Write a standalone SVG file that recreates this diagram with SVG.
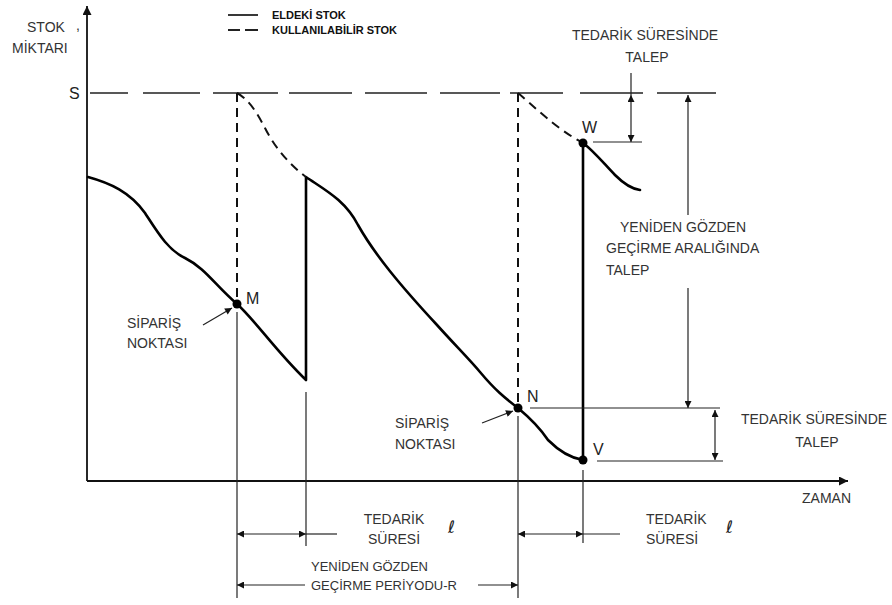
<svg xmlns="http://www.w3.org/2000/svg" width="892" height="605" viewBox="0 0 892 605">
<style>
.lbl{font-family:"Liberation Sans",Arial,sans-serif;font-size:14px;fill:#333;}
.lg{font-family:"Liberation Sans",Arial,sans-serif;font-size:11px;font-weight:bold;fill:#111;}
.ar{font-family:"Liberation Sans",Arial,sans-serif;font-size:13px;fill:#333;}
.ell{font-family:"DejaVu Sans",sans-serif;font-size:17px;fill:#222;}
.pt{font-family:"Liberation Sans",Arial,sans-serif;font-size:16px;fill:#222;}
.thick{fill:none;stroke:#000;stroke-width:2.6;stroke-linejoin:round;stroke-linecap:round;}
.dash{fill:none;stroke:#111;stroke-width:2;stroke-dasharray:9,6;}
.sline{fill:none;stroke:#222;stroke-width:1.6;}
.thin{fill:none;stroke:#222;stroke-width:1.2;}
.axis{fill:none;stroke:#111;stroke-width:1.8;}
.dot{fill:#000;}
</style>
<defs>
<marker id="ah" viewBox="0 0 10 10" refX="10" refY="5" markerWidth="9" markerHeight="7" markerUnits="userSpaceOnUse" orient="auto-start-reverse"><path d="M0,0 L10,5 L0,10 z" fill="#111"/></marker>
<marker id="axh" viewBox="0 0 10 10" refX="10" refY="5" markerWidth="16" markerHeight="9" markerUnits="userSpaceOnUse" orient="auto"><path d="M0,0 L10,5 L0,10 z" fill="#111"/></marker>
</defs>
<rect width="892" height="605" fill="#fff"/>

<g id="connectors">
  <path class="axis" d="M87,481 L87,6" marker-end="url(#axh)"/>
  <path class="axis" d="M87,481 L848,481" marker-end="url(#axh)"/>
  <path class="sline" d="M90,93 L128,93 M143,93 L200,93 M213,93 L278,93 M289,93 L352,93 M365,93 L427,93 M440,93 L500,93 M510,93 L563,93 M580,93 L643,93 M657,93 L716,93"/>
  <path class="thick" d="M88,177 C110,183 130,192 145,213 C158,233 168,250 185,258 C205,268 215,285 237,304 C255,320 275,350 306,380 L306,177 C325,190 345,200 358,225 C375,255 400,285 437,325 C455,345 470,360 480,372 C495,390 505,398 518,408 C530,418 540,428 548,440 C560,452 570,458 583,460 L583,143 C595,152 605,165 615,175 C625,185 632,189 640,190"/>
  <path class="dash" d="M237,93 L237,304"/>
  <path class="dash" d="M237,93 C250,100 258,115 265,128 C275,148 290,165 306,177"/>
  <path class="dash" d="M518,93 L518,408"/>
  <path class="dash" d="M518,93 C535,107 555,128 583,143"/>
  <path class="thin" d="M237,312 L237,598"/>
  <path class="thin" d="M306,392 L306,546"/>
  <path class="thin" d="M518,416 L518,598"/>
  <path class="thin" d="M583,470 L583,543"/>
  <path class="thin" d="M631,73 L631,95"/>
  <path class="thin" d="M631,95 L631,142" marker-start="url(#ah)" marker-end="url(#ah)"/>
  <path class="thin" d="M593,142 L642,142"/>
  <path class="thin" d="M688,215 L688,95" marker-end="url(#ah)"/>
  <path class="thin" d="M688,288 L688,408" marker-end="url(#ah)"/>
  <path class="thin" d="M530,408 L720,408"/>
  <path class="thin" d="M715,410 L715,460" marker-start="url(#ah)" marker-end="url(#ah)"/>
  <path class="thin" d="M597,461 L723,461"/>
  <path class="thin" d="M237,534 L306,534" marker-start="url(#ah)" marker-end="url(#ah)"/>
  <path class="thin" d="M306,534 L337,534"/>
  <path class="thin" d="M518,534 L583,534" marker-start="url(#ah)" marker-end="url(#ah)"/>
  <path class="thin" d="M583,534 L620,534"/>
  <path class="thin" d="M305,585 L237,585" marker-end="url(#ah)"/>
  <path class="thin" d="M478,585 L518,585" marker-end="url(#ah)"/>
  <path class="thin" d="M203,325 L232,308" marker-end="url(#ah)"/>
  <path class="thin" d="M482,423 L513,411" marker-end="url(#ah)"/>
  <path class="thin" d="M228,15 L258,15" style="stroke-width:1.8"/>
  <path class="thin" d="M228,30 L240,30 M245,30 L258,30" style="stroke-width:1.8"/>
</g>

<g id="axis-labels">
  <text class="lbl" x="27" y="32">STOK</text>
  <text class="lbl" x="76" y="30">,</text>
  <text class="lbl" x="12" y="53">MİKTARI</text>
  <text class="pt" x="69" y="99">S</text>
  <text class="lbl" x="802" y="503">ZAMAN</text>
</g>

<g id="legend">
  <text class="lg" x="272" y="19">ELDEKİ STOK</text>
  <text class="lg" x="272" y="34">KULLANILABİLİR STOK</text>
</g>

<g id="point-M">
  <circle class="dot" cx="237" cy="304" r="4.5"/>
  <text class="pt" x="246" y="304">M</text>
</g>
<g id="point-N">
  <circle class="dot" cx="518" cy="408" r="4.5"/>
  <text class="pt" x="527" y="402">N</text>
</g>
<g id="point-V">
  <circle class="dot" cx="583" cy="460" r="4.5"/>
  <text class="pt" x="593" y="455">V</text>
</g>
<g id="point-W">
  <circle class="dot" cx="583" cy="143" r="4.5"/>
  <text class="pt" x="582" y="133">W</text>
</g>

<g id="order-point-1">
  <text class="lbl" x="127" y="328">SİPARİŞ</text>
  <text class="lbl" x="127" y="348">NOKTASI</text>
</g>
<g id="order-point-2">
  <text class="lbl" x="395" y="428">SİPARİŞ</text>
  <text class="lbl" x="395" y="449">NOKTASI</text>
</g>

<g id="lead-demand-top">
  <text class="lbl" x="645" y="40" text-anchor="middle">TEDARİK SÜRESİNDE</text>
  <text class="lbl" x="647" y="62" text-anchor="middle">TALEP</text>
</g>
<g id="review-demand">
  <text class="lbl" x="620" y="232">YENİDEN GÖZDEN</text>
  <text class="lbl" x="606" y="253">GEÇİRME ARALIĞINDA</text>
  <text class="lbl" x="606" y="275">TALEP</text>
</g>
<g id="lead-demand-bottom">
  <text class="lbl" x="814" y="424" text-anchor="middle">TEDARİK SÜRESİNDE</text>
  <text class="lbl" x="817" y="447" text-anchor="middle">TALEP</text>
</g>

<g id="lead-time-1">
  <text class="lbl" x="394" y="524" text-anchor="middle">TEDARİK</text>
  <text class="lbl" x="394" y="544" text-anchor="middle">SÜRESİ</text>
  <text class="ell" x="448" y="533">ℓ</text>
</g>
<g id="lead-time-2">
  <text class="lbl" x="646" y="524">TEDARİK</text>
  <text class="lbl" x="646" y="544">SÜRESİ</text>
  <text class="ell" x="726" y="533">ℓ</text>
</g>
<g id="review-period">
  <text class="ar" x="311" y="571">YENİDEN GÖZDEN</text>
  <text class="ar" x="311" y="590">GEÇİRME PERİYODU-R</text>
</g>
</svg>
